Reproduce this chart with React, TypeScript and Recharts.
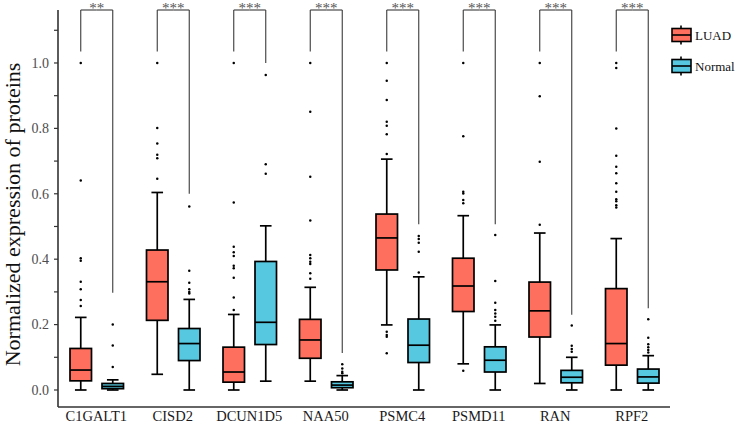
import { ComposedChart, Bar, XAxis, YAxis, Legend, Label } from 'recharts';

// Protein categories and per-group box statistics
const categories = ['C1GALT1', 'CISD2', 'DCUN1D5', 'NAA50', 'PSMC4', 'PSMD11', 'RAN', 'RPF2'];

const luadLow = [0.0, 0.048, 0.0, 0.027, 0.199, 0.08, 0.02, 0.0];
const luadQ1 = [0.028, 0.213, 0.024, 0.097, 0.367, 0.24, 0.162, 0.076];
const luadMedian = [0.061, 0.331, 0.055, 0.153, 0.465, 0.318, 0.242, 0.142];
const luadQ3 = [0.127, 0.428, 0.131, 0.216, 0.538, 0.403, 0.33, 0.31];
const luadHigh = [0.222, 0.604, 0.231, 0.314, 0.706, 0.533, 0.48, 0.463];
const luadOutliers = [
  [1.0, 0.641, 0.403, 0.395, 0.331, 0.308, 0.275, 0.257],
  [1.0, 0.801, 0.754, 0.719, 0.709, 0.646],
  [1.0, 0.573, 0.438, 0.421, 0.41, 0.38, 0.372, 0.343, 0.283, 0.245],
  [1.0, 0.851, 0.652, 0.518, 0.413, 0.403, 0.392, 0.385, 0.357, 0.34],
  [1.0, 0.946, 0.887, 0.82, 0.808, 0.782, 0.722, 0.178, 0.168, 0.163, 0.112],
  [1.0, 0.776, 0.606, 0.601, 0.581, 0.571, 0.059],
  [1.0, 0.898, 0.698, 0.505],
  [1.0, 0.985, 0.8, 0.716, 0.683, 0.663, 0.632, 0.606, 0.583, 0.577, 0.565, 0.558],
];

const normalLow = [0.0, 0.0, 0.027, 0.0, 0.0, 0.0, 0.0, 0.0];
const normalQ1 = [0.004, 0.09, 0.139, 0.007, 0.084, 0.055, 0.022, 0.021];
const normalMedian = [0.011, 0.142, 0.207, 0.015, 0.137, 0.091, 0.039, 0.04];
const normalQ3 = [0.02, 0.188, 0.393, 0.025, 0.217, 0.132, 0.06, 0.064];
const normalHigh = [0.031, 0.277, 0.502, 0.044, 0.346, 0.199, 0.1, 0.105];
const normalOutliers = [
  [0.2, 0.136, 0.07],
  [0.561, 0.365, 0.328, 0.308, 0.3, 0.295],
  [0.963, 0.69, 0.661],
  [0.079, 0.066, 0.056, 0.051],
  [0.471, 0.462, 0.45, 0.423, 0.359],
  [0.474, 0.333, 0.267, 0.245, 0.234, 0.224, 0.212],
  [0.197, 0.135, 0.125, 0.117],
  [0.216, 0.16, 0.14, 0.131, 0.122, 0.115],
];

// Significance brackets
const significance = ['**', '***', '***', '***', '***', '***', '***', '***'];
const bracketLuadEnd = [1.035, 1.035, 1.035, 1.035, 1.035, 1.035, 1.035, 1.035];
const bracketNormalEnd = [0.297, 0.6, 1.0, 0.113, 0.507, 0.507, 0.23, 0.25];

const yTicks = [0, 0.1, 0.2, 0.3, 0.4, 0.5, 0.6, 0.7, 0.8, 0.9, 1.0, 1.1];
const Y_MIN = -0.052;
const Y_MAX = 1.162;

const LUAD_FILL = '#FF6F5E';
const NORMAL_FILL = '#56C8E0';
const FONT = '"Liberation Serif", "Times New Roman", serif';
const AXIS = '#333333';
const BAR_SIZE = 21.5;
const BAR_GAP = 10.5;

const groups = {
  luad: { low: luadLow, q1: luadQ1, median: luadMedian, q3: luadQ3, high: luadHigh, outliers: luadOutliers, fill: LUAD_FILL },
  normal: { low: normalLow, q1: normalQ1, median: normalMedian, q3: normalQ3, high: normalHigh, outliers: normalOutliers, fill: NORMAL_FILL },
};

const rows = categories.map((name, idx) => ({
  name,
  idx,
  luad: [luadLow[idx], luadHigh[idx]],
  normal: [normalLow[idx], normalHigh[idx]],
}));

const makeBoxShape = (key: 'luad' | 'normal') => (props: any) => {
  const { x, y, width, height, payload } = props;
  if (payload == null || width == null) return <g />;
  const i = payload.idx;
  const g = groups[key];
  const lo = g.low[i];
  const hi = g.high[i];
  const top = Math.min(y, y + height);
  const bottom = Math.max(y, y + height);
  // linear map taken from the bar's own scaled end points
  const pix = (v: number) => bottom - ((v - lo) / (hi - lo)) * (bottom - top);
  const cx = x + width / 2;
  const cap = width * 0.27;
  const yTop = pix(Y_MAX);
  const sw = 1.7;

  const bracket =
    key === 'luad' ? (
      <g stroke="#3a3a3a" strokeWidth={1.1} fill="none">
        <line x1={cx} x2={cx} y1={pix(bracketLuadEnd[i])} y2={yTop} />
        <line x1={cx} x2={x + width + BAR_GAP / 2} y1={yTop} y2={yTop} />
        <text
          x={x + width + BAR_GAP / 2}
          y={yTop + 3}
          textAnchor="middle"
          fontSize={15}
          fontFamily={FONT}
          fill="#555"
          stroke="none"
        >
          {significance[i]}
        </text>
      </g>
    ) : (
      <g stroke="#3a3a3a" strokeWidth={1.1} fill="none">
        <line x1={cx} x2={cx} y1={pix(bracketNormalEnd[i])} y2={yTop} />
        <line x1={x - BAR_GAP / 2} x2={cx} y1={yTop} y2={yTop} />
      </g>
    );

  return (
    <g>
      {bracket}
      <line x1={cx} x2={cx} y1={pix(hi)} y2={pix(g.q3[i])} stroke="#000" strokeWidth={sw} />
      <line x1={cx} x2={cx} y1={pix(g.q1[i])} y2={pix(lo)} stroke="#000" strokeWidth={sw} />
      <line x1={cx - cap} x2={cx + cap} y1={pix(hi)} y2={pix(hi)} stroke="#000" strokeWidth={sw} />
      <line x1={cx - cap} x2={cx + cap} y1={pix(lo)} y2={pix(lo)} stroke="#000" strokeWidth={sw} />
      <rect
        x={x}
        y={pix(g.q3[i])}
        width={width}
        height={pix(g.q1[i]) - pix(g.q3[i])}
        fill={g.fill}
        stroke="#000"
        strokeWidth={sw}
      />
      <line x1={x} x2={x + width} y1={pix(g.median[i])} y2={pix(g.median[i])} stroke="#000" strokeWidth={sw} />
      {g.outliers[i].map((v, k) => (
        <circle key={k} cx={cx} cy={pix(v)} r={1.25} fill="#000" />
      ))}
    </g>
  );
};

const XTick = ({ x, y, payload }: any) => (
  <text x={x} y={y + 12} textAnchor="middle" fontSize={14.5} fontFamily={FONT} fill="#1a1a1a">
    {payload.value}
  </text>
);

const YTick = ({ x, y, payload }: any) => {
  const v = payload.value as number;
  if (Math.round(v * 10) % 2 !== 0) return <g />;
  return (
    <text x={x} y={y} dy="0.35em" textAnchor="end" fontSize={14} fontFamily={FONT} fill="#4d4d4d">
      {v.toFixed(1)}
    </text>
  );
};

const YTitle = ({ viewBox }: any) => {
  const cy = viewBox.y + viewBox.height / 2 + 6;
  return (
    <text
      x={20}
      y={cy}
      transform={`rotate(-90, 20, ${cy})`}
      textAnchor="middle"
      fontSize={22}
      fontFamily={FONT}
      fill="#111"
    >
      Normalized expression of proteins
    </text>
  );
};

const LegendContent = () => (
  <svg width={66} height={62} style={{ display: 'block' }}>
    {[
      { name: 'LUAD', fill: LUAD_FILL },
      { name: 'Normal', fill: NORMAL_FILL },
    ].map((item, k) => {
      const cy = 15 + k * 31;
      return (
        <g key={item.name}>
          <line x1={11} x2={11} y1={cy - 9.5} y2={cy + 9.5} stroke="#000" strokeWidth={1.6} />
          <rect x={2} y={cy - 6.5} width={19} height={13} fill={item.fill} stroke="#000" strokeWidth={1.6} />
          <line x1={2} x2={21} y1={cy} y2={cy} stroke="#000" strokeWidth={1.6} />
          <text x={25} y={cy} dy="0.35em" fontSize={13} fontFamily={FONT} fill="#111">
            {item.name}
          </text>
        </g>
      );
    })}
  </svg>
);

export default function App() {
  return (
    <div style={{ width: 736, height: 423, background: '#fff' }}>
      <style>{'body{margin:0}'}</style>
      <ComposedChart
        width={736}
        height={423}
        data={rows}
        margin={{ top: 10, right: 0, bottom: 0, left: 0 }}
        barSize={BAR_SIZE}
        barGap={BAR_GAP}
      >
        <XAxis
          dataKey="name"
          interval={0}
          height={16}
          tickSize={0}
          tickMargin={2}
          tickLine={false}
          axisLine={{ stroke: AXIS, strokeWidth: 1.6 }}
          tick={<XTick />}
        />
        <YAxis
          type="number"
          domain={[Y_MIN, Y_MAX]}
          ticks={yTicks}
          width={58}
          tickSize={4}
          tickMargin={5}
          tickLine={{ stroke: AXIS, strokeWidth: 1.2 }}
          axisLine={{ stroke: AXIS, strokeWidth: 1.6 }}
          tick={<YTick />}
        >
          <Label content={<YTitle />} />
        </YAxis>
        <Legend
          layout="vertical"
          align="right"
          verticalAlign="top"
          content={<LegendContent />}
          wrapperStyle={{ top: 20 }}
        />
        <Bar dataKey="luad" name="LUAD" fill={LUAD_FILL} shape={makeBoxShape('luad')} isAnimationActive={false} />
        <Bar dataKey="normal" name="Normal" fill={NORMAL_FILL} shape={makeBoxShape('normal')} isAnimationActive={false} />
      </ComposedChart>
    </div>
  );
}
